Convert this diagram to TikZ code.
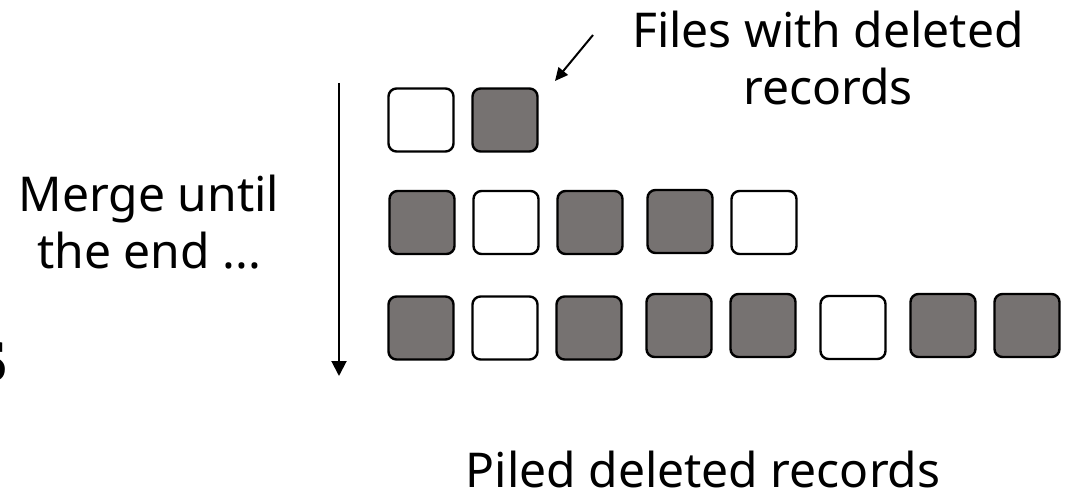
\documentclass[tikz,border=0pt]{standalone}
\usepackage{fontspec}
\setmainfont{Noto Sans}
\newfontfamily\serifS{Liberation Serif}
\usetikzlibrary{arrows.meta}
\definecolor{filegray}{HTML}{767271}
\begin{document}
\begin{tikzpicture}[x=1pt,y=-1pt,
  file/.style={draw=black, line width=2.4pt, rounded corners=8pt,
    minimum width=65pt, minimum height=63pt, inner sep=0pt},
  full/.style={file, fill=filegray},
  empty/.style={file, fill=white},
  label/.style={font=\fontsize{48}{57}\selectfont, inner sep=0pt},
  flow/.style={line width=2pt, -{Triangle[length=15pt,width=15pt]}},
  pointer/.style={line width=2pt, -{Triangle[length=13pt,width=12pt]}}]
\useasboundingbox (0,0) rectangle (1066,492);
\clip (0,0) rectangle (1066,492);

% stray letter at the left border
\node[anchor=base east, inner sep=0pt, font=\serifS\bfseries\fontsize{60}{60}\selectfont] (s) at (8,381) {S};

% level 1
\node[empty] (a1) at (421,120) {};
\node[full]  (a2) at (505,120) {};
% level 2
\node[full]  (b1) at (422,222.5) {};
\node[empty] (b2) at (506,222.5) {};
\node[full]  (b3) at (590,222.5) {};
\node[full]  (b4) at (680,221.5) {};
\node[empty] (b5) at (764,222.5) {};
% level 3
\node[full]  (c1) at (421,328) {};
\node[empty] (c2) at (505,328) {};
\node[full]  (c3) at (589,328) {};
\node[full]  (c4) at (679,325.5) {};
\node[full]  (c5) at (763,325.5) {};
\node[empty] (c6) at (853,327.5) {};
\node[full]  (c7) at (943,325.5) {};
\node[full]  (c8) at (1027,325.5) {};

% merge direction
\coordinate (top) at (339,83);
\coordinate (bottom) at (339,376);
\draw[flow] (top) -- (bottom);

\node[label, align=center] (merge) at (149,222) {Merge until\\the end ...};
\node[label, align=center] (files) at (828,58) {Files with deleted\\records};
\node[label, anchor=base] (piled) at (703,487) {Piled deleted records};

\coordinate (ptail) at (593,35);
\coordinate (phead) at (555,81);
\draw[pointer] (ptail) -- (phead);
\end{tikzpicture}
\end{document}
